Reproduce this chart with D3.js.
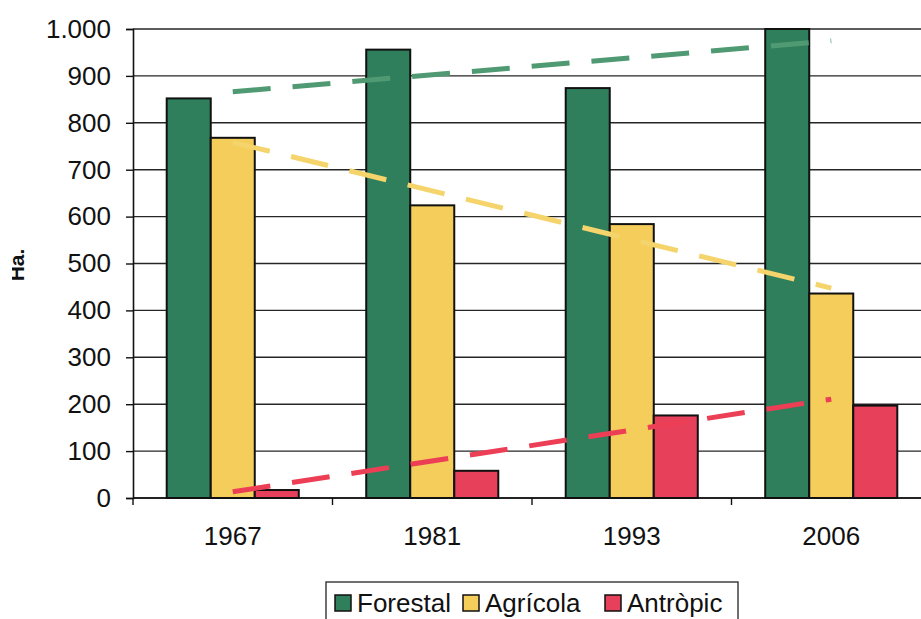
<!DOCTYPE html>
<html>
<head>
<meta charset="utf-8">
<script src="https://cdn.jsdelivr.net/npm/d3@7"></script>
<style>
  html, body { margin: 0; padding: 0; background: #fff; }
  svg { display: block; }
  text { font-family: Arial, "Liberation Sans", sans-serif; fill: #111; }
</style>
</head>
<body>
<svg id="chart" width="921" height="619"></svg>
<script>
const categories = ["1967", "1981", "1993", "2006"];
const seriesNames = ["Forestal", "Agrícola", "Antròpic"];
const forestal = [852, 956, 874, 1000];
const agricola = [768, 624, 584, 436];
const antropic = [17, 58, 176, 197];
const yTicks = [0, 100, 200, 300, 400, 500, 600, 700, 800, 900, 1000];
const yTitle = "Ha.";

const seriesValues = [forestal, agricola, antropic];
const barColors = ["#2f7f5c", "#f4cd5b", "#e7405b"];
const trendColors = ["#4f9a72", "#f5d46c", "#ec3e55"];

const svg = d3.select("#chart");
const plotLeft = 133, plotTop = 29, plotBottom = 498;
const plotRight = 931;

const x0 = d3.scaleBand().domain(categories).range([plotLeft, plotRight])
  .paddingInner(0.338).paddingOuter(0.169);
const x1 = d3.scaleBand().domain(seriesNames).range([0, x0.bandwidth()]);
const y = d3.scaleLinear().domain([0, 1000]).range([plotBottom, plotTop]);

const locale = d3.formatLocale({ decimal: ",", thousands: ".", grouping: [3], currency: ["", ""] });
const fmt = locale.format(",");

// gridlines
svg.append("g").selectAll("line").data(yTicks).join("line")
  .attr("x1", plotLeft).attr("x2", 921)
  .attr("y1", d => y(d)).attr("y2", d => y(d))
  .attr("stroke", "#262626").attr("stroke-width", 1.4);

// bars
const groups = svg.append("g").selectAll("g").data(categories).join("g")
  .attr("transform", c => `translate(${x0(c)},0)`);
groups.selectAll("rect")
  .data((c, i) => seriesNames.map((s, j) => ({ s, j, v: seriesValues[j][i] })))
  .join("rect")
  .attr("x", d => x1(d.s))
  .attr("width", x1.bandwidth())
  .attr("y", d => y(d.v))
  .attr("height", d => y(0) - y(d.v))
  .attr("fill", d => barColors[d.j])
  .attr("stroke", "#111").attr("stroke-width", 2);

// linear trendlines
function regression(vals) {
  const xs = vals.map((_, i) => i + 1);
  const mx = d3.mean(xs), my = d3.mean(vals);
  const slope = d3.sum(xs, (xv, i) => (xv - mx) * (vals[i] - my)) / d3.sum(xs, xv => (xv - mx) ** 2);
  return xv => my + slope * (xv - mx);
}
const center = c => x0(c) + x0.bandwidth() / 2;
seriesValues.forEach((vals, j) => {
  const f = regression(vals);
  const first = categories[0], last = categories[categories.length - 1];
  svg.append("line")
    .attr("x1", center(first)).attr("y1", y(f(1)))
    .attr("x2", center(last)).attr("y2", y(f(categories.length)))
    .attr("stroke", trendColors[j]).attr("stroke-width", 5)
    .attr("stroke-dasharray", "38,22");
});

// y axis
const yAxis = svg.append("g").attr("transform", `translate(${plotLeft},0)`)
  .call(d3.axisLeft(y).tickValues(yTicks).tickFormat(fmt).tickSize(7).tickPadding(15));
yAxis.select(".domain").attr("stroke", "#111").attr("stroke-width", 1.6);
yAxis.selectAll(".tick line").attr("stroke", "#111").attr("stroke-width", 1.4);
yAxis.selectAll("text").style("font-size", "26px").attr("fill", "#111")
  .style("font-family", "Arial, 'Liberation Sans', sans-serif");

// x axis
const xAxis = svg.append("g").attr("transform", `translate(0,${plotBottom})`)
  .call(d3.axisBottom(x0).tickSize(0).tickPadding(29));
xAxis.select(".domain").remove();
xAxis.selectAll("text").style("font-size", "26px").attr("fill", "#111")
  .style("font-family", "Arial, 'Liberation Sans', sans-serif");
svg.append("line").attr("x1", plotLeft).attr("x2", 921).attr("y1", plotBottom).attr("y2", plotBottom)
  .attr("stroke", "#111").attr("stroke-width", 1.6);
const step = x0.step();
svg.append("g").selectAll("line").data(d3.range(categories.length + 1)).join("line")
  .attr("x1", i => plotLeft + i * step).attr("x2", i => plotLeft + i * step)
  .attr("y1", plotBottom).attr("y2", plotBottom + 7)
  .attr("stroke", "#111").attr("stroke-width", 1.4);

// y title (rotated, partly cut at the left edge as in the scan)
svg.append("clipPath").attr("id", "ttlclip").append("rect")
  .attr("x", 12).attr("y", 0).attr("width", 60).attr("height", 619);
svg.append("g").attr("clip-path", "url(#ttlclip)")
  .append("text")
  .attr("transform", "translate(24,265) rotate(-90)")
  .attr("text-anchor", "middle")
  .style("font-size", "21px").style("font-weight", "bold")
  .text(yTitle);

// legend
const lg = svg.append("g");
lg.append("rect").attr("x", 326).attr("y", 582).attr("width", 412).attr("height", 50)
  .attr("fill", "none").attr("stroke", "#333").attr("stroke-width", 1.4);
const legendX = [335, 463, 605];
seriesNames.forEach((s, j) => {
  lg.append("rect").attr("x", legendX[j]).attr("y", 595).attr("width", 16).attr("height", 16)
    .attr("fill", barColors[j]).attr("stroke", "#111").attr("stroke-width", 1.5);
  lg.append("text").attr("x", legendX[j] + 22).attr("y", 612)
    .style("font-size", "26px").text(s);
});
</script>
</body>
</html>
